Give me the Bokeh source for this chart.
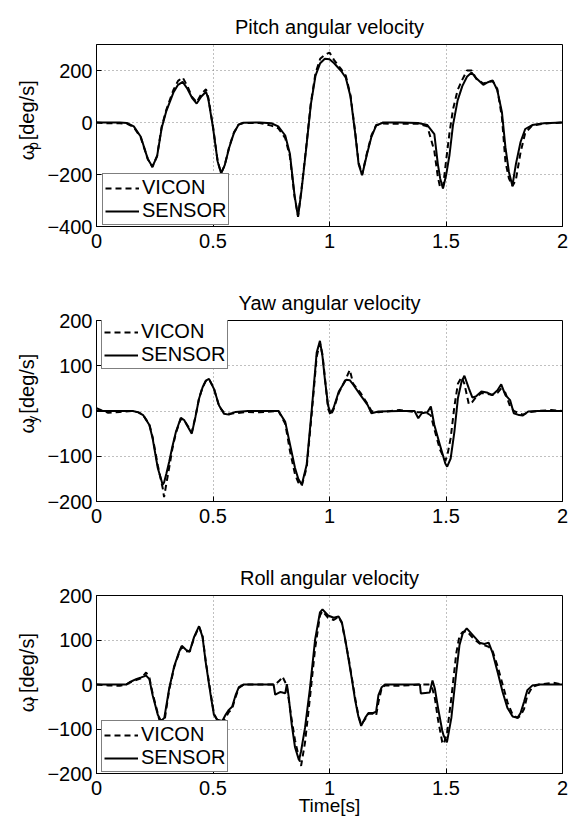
import math
from bokeh.plotting import figure
from bokeh.models import (Range1d, FixedTicker, Legend, LegendItem,
                          CustomJSTickFormatter)
from bokeh.layouts import column, row
from bokeh.core.properties import value
from bokeh.embed import file_html
from bokeh.resources import INLINE

FONT = "Liberation Sans"

# ---------------- data ----------------
x_ticks = [0, 0.5, 1, 1.5, 2]

# Pitch
t_pitch = [0.00, 0.05, 0.10, 0.13, 0.16, 0.19, 0.22, 0.24, 0.26, 0.28,
           0.30, 0.33, 0.35, 0.37, 0.39, 0.41, 0.43, 0.45, 0.47, 0.48,
           0.50, 0.52, 0.535, 0.55, 0.57, 0.59, 0.61, 0.63, 0.70, 0.75,
           0.78, 0.81, 0.83, 0.85, 0.865, 0.88, 0.90, 0.92, 0.94, 0.96,
           0.98, 1.00, 1.02, 1.05, 1.07, 1.09, 1.11, 1.125, 1.14, 1.16,
           1.18, 1.20, 1.23, 1.30, 1.38, 1.42, 1.45, 1.465, 1.475, 1.487,
           1.50, 1.515, 1.53, 1.55, 1.57, 1.59, 1.61, 1.63, 1.66, 1.68,
           1.70, 1.72, 1.74, 1.755, 1.77, 1.785, 1.80, 1.82, 1.84, 1.87,
           1.92, 2.00]
sensor_pitch = [0, 0, 0, -2, -15, -55, -140, -170, -130, -20,
                45, 115, 145, 156, 130, 95, 73, 100, 118, 90,
                -20, -150, -196, -165, -95, -40, -8, -1, 0, -3,
                -15, -50, -120, -280, -363, -260, -100, 70, 180, 228,
                245, 243, 228, 198, 172, 100, -40, -160, -203, -125,
                -55, -12, 0, 0, -2, -10, -45, -160, -215, -254,
                -205, -125, -10, 85, 140, 176, 192, 170, 145, 155,
                162, 125, 40, -95, -190, -243, -160, -75, -25, -10,
                -3, 0]
vicon_pitch = [0, -3, -3, -4, -18, -58, -140, -172, -128, -15,
               50, 125, 160, 173, 140, 98, 78, 110, 128, 95,
               -15, -150, -194, -165, -92, -38, -8, -2, -2, -12,
               -22, -60, -130, -285, -360, -255, -95, 75, 190, 245,
               260, 269, 240, 205, 180, 105, -35, -155, -200, -120,
               -50, -10, -4, -5, -5, -15, -110, -210, -250, -250,
               -150, -40, 50, 125, 165, 200, 200, 168, 150, 155,
               160, 130, 20, -150, -215, -245, -220, -115, -40, -12,
               -4, 0]

# Yaw
t_yaw = [0.00, 0.02, 0.05, 0.10, 0.156, 0.18, 0.20, 0.227, 0.241, 0.263,
         0.284, 0.29, 0.30, 0.312, 0.325, 0.341, 0.362, 0.376, 0.392, 0.409,
         0.425, 0.44, 0.455, 0.469, 0.483, 0.504, 0.526, 0.547, 0.568, 0.597,
         0.65, 0.70, 0.781, 0.81, 0.831, 0.852, 0.866, 0.881, 0.902, 0.923,
         0.945, 0.959, 0.97, 0.98, 0.994, 1.005, 1.017, 1.04, 1.071, 1.087,
         1.102, 1.133, 1.164, 1.18, 1.21, 1.30, 1.365, 1.381, 1.396, 1.42,
         1.435, 1.45, 1.474, 1.497, 1.505, 1.52, 1.536, 1.551, 1.567, 1.579,
         1.598, 1.613, 1.628, 1.652, 1.675, 1.698, 1.721, 1.737, 1.755, 1.775,
         1.791, 1.814, 1.83, 1.853, 1.892, 1.95, 2.00]
sensor_yaw = [0, 0, 0, 0, 0, -3, -9, -31, -61, -126,
              -163, -158, -138, -112, -80, -46, -15, -20, -35, -50,
              -12, 27, 52, 67, 71, 49, 12, -6, -8, -2,
              0, 0, 0, -24, -75, -126, -150, -163, -119, -2,
              129, 155, 120, 71, 12, -5, 6, 43, 69, 68,
              58, 35, 13, -5, -1, 0, 0, -16, -5, -3,
              10, -31, -75, -116, -123, -105, -46, 28, 65, 78,
              50, 30, 32, 43, 41, 35, 46, 59, 35, 24,
              -5, -9, -10, -1, 0, 0, 0]
vicon_yaw = [6, 2, -4, -2, 0, -3, -9, -30, -58, -120,
             -170, -190, -160, -125, -85, -48, -17, -20, -33, -47,
             -12, 28, 52, 66, 70, 50, 10, -3, -6, -5,
             -2, -3, 0, -28, -90, -140, -158, -165, -125, -10,
             120, 150, 125, 75, 5, -10, 3, 40, 72, 91,
             60, 40, 15, 0, -3, 2, -2, -3, -3, -5,
             -10, -40, -85, -110, -100, -60, 10, 60, 75, 60,
             15, 20, 30, 40, 38, 36, 40, 50, 40, 10,
             0, -5, -8, -3, 0, 2, 0]

# Roll
t_roll = [0.00, 0.05, 0.10, 0.128, 0.142, 0.17, 0.192, 0.213, 0.227, 0.241,
          0.263, 0.277, 0.291, 0.312, 0.334, 0.355, 0.366, 0.384, 0.40, 0.419,
          0.44, 0.455, 0.469, 0.49, 0.504, 0.518, 0.54, 0.554, 0.568, 0.582,
          0.597, 0.611, 0.632, 0.70, 0.76, 0.767, 0.788, 0.798, 0.81, 0.817,
          0.824, 0.838, 0.852, 0.869, 0.878, 0.895, 0.916, 0.938, 0.959, 0.97,
          0.994, 1.018, 1.039, 1.053, 1.068, 1.082, 1.096, 1.11, 1.124, 1.136,
          1.153, 1.167, 1.188, 1.20, 1.21, 1.224, 1.238, 1.30, 1.388, 1.392,
          1.43, 1.442, 1.452, 1.466, 1.484, 1.49, 1.504, 1.523, 1.544, 1.558,
          1.572, 1.589, 1.615, 1.644, 1.665, 1.683, 1.70, 1.722, 1.743, 1.764,
          1.786, 1.807, 1.82, 1.835, 1.849, 1.871, 1.90, 1.96, 2.00]
sensor_roll = [0, 0, 0, 0, 5, 12, 16, 20, 12, -24,
               -68, -82, -75, -9, 42, 74, 87, 78, 74, 107,
               131, 107, 49, -24, -68, -79, -82, -68, -57, -50,
               -24, -6, 0, 0, 0, -23, -17, -18, -20, 1,
               -24, -90, -141, -170, -150, -97, -9, 100, 162, 169,
               155, 150, 153, 140, 100, 56, 12, -35, -72, -93,
               -75, -64, -64, -61, -24, -6, 0, 0, 0, -20,
               -18, 9, -9, -53, -104, -115, -130, -75, 27, 89,
               115, 126, 111, 94, 91, 94, 71, 27, -17, -53,
               -72, -75, -64, -39, -13, -2, 0, 0, 0]
vicon_roll = [0, -2, -3, 0, 4, 10, 14, 27, 15, -20,
              -65, -95, -85, -12, 40, 72, 85, 75, 74, 105,
              130, 110, 52, -20, -65, -80, -85, -75, -62, -55,
              -28, -8, 0, 0, 0, 0, 10, 18, 5, -5,
              -30, -80, -125, -165, -183, -130, -30, 80, 155, 165,
              150, 145, 152, 138, 98, 60, 15, -30, -70, -90,
              -78, -66, -66, -70, -40, -8, -2, -3, 0, 0,
              0, -10, -30, -80, -130, -134, -110, -30, 70, 110,
              118, 120, 105, 92, 88, 85, 75, 40, 0, -40,
              -68, -75, -70, -55, -25, -5, 0, 4, 0]

FRAME_H = 182
FRAME_LEFT = 94     # page x of the axes box
FRAME_RIGHT = 562
LAB_W = 44          # width of the narrow strip holding the y-axis label
MAIN_W = 568 - LAB_W
BORDER_L = FRAME_LEFT - LAB_W
BORDER_R = MAIN_W - BORDER_L - (FRAME_RIGHT - FRAME_LEFT)


def label_strip(height, top, sub, sub_w):
    """Narrow figure that carries the rotated y label  ω_sub [deg/s]."""
    s = figure(width=LAB_W, height=height, x_range=Range1d(0, LAB_W),
               y_range=Range1d(0, height), output_backend="svg",
               toolbar_location=None, min_border=0, title=None,
               x_axis_type=None, y_axis_type=None)
    s.outline_line_color = None
    s.grid.visible = False
    s.background_fill_color = "white"
    s.border_fill_color = "white"
    w_om, w_deg, gap = 15, 60, 7
    total = w_om + sub_w + gap + w_deg
    centre = height - (top + FRAME_H / 2)
    start = centre - total / 2
    base_x = 26.5
    s.text(x=[base_x, base_x + 5.5, base_x],
           y=[start, start + w_om + 1, start + w_om + 1 + sub_w + gap],
           text=["\u03c9", sub, "[deg/s]"],
           angle=math.pi / 2, text_align="left", text_baseline="alphabetic",
           text_font=value(FONT), text_font_size=["20px", "14px", "20px"],
           text_color="black")
    return s


def make_panel(title, sub, sub_w, t, vicon, sensor, y0, y1, yticks,
               leg_xy, height, top, xlabel=None):
    bottom = height - top - FRAME_H
    p = figure(width=MAIN_W, height=height, x_range=Range1d(0, 2),
               y_range=Range1d(y0, y1), output_backend="svg",
               toolbar_location=None, title=title,
               min_border_left=BORDER_L, min_border_right=BORDER_R,
               min_border_top=top, min_border_bottom=bottom)
    p.title.align = "center"
    p.title.text_font = FONT
    p.title.text_font_size = "20px"
    p.title.text_font_style = "normal"
    p.title.text_color = "black"
    p.title.standoff = 13
    p.background_fill_color = "white"
    p.border_fill_color = "white"
    p.outline_line_color = "black"
    p.outline_line_width = 1

    p.xaxis.ticker = FixedTicker(ticks=x_ticks)
    p.yaxis.ticker = FixedTicker(ticks=yticks)
    p.xaxis.formatter = CustomJSTickFormatter(code="return tick.toString();")
    p.yaxis.formatter = CustomJSTickFormatter(
        code="return tick < 0 ? '\\u2212' + Math.abs(tick) : tick.toString();")
    for ax in (p.xaxis[0], p.yaxis[0]):
        ax.axis_line_color = "black"
        ax.major_tick_line_color = "black"
        ax.major_tick_in = 5
        ax.major_tick_out = 0
        ax.minor_tick_line_color = None
        ax.major_label_text_font = FONT
        ax.major_label_text_font_size = "20px"
        ax.major_label_text_color = "black"
        ax.major_label_standoff = 4
    p.xaxis.major_label_standoff = 7
    if xlabel:
        p.xaxis.axis_label = xlabel
        p.xaxis.axis_label_text_font = FONT
        p.xaxis.axis_label_text_font_size = "19px"
        p.xaxis.axis_label_text_font_style = "normal"
        p.xaxis.axis_label_text_color = "black"
        p.xaxis.axis_label_standoff = -3
    p.grid.grid_line_color = "#808080"
    p.grid.grid_line_dash = "1 3"
    p.grid.grid_line_width = 1

    rv = p.line(t, vicon, line_color="black", line_width=2, line_dash="6 4")
    rs = p.line(t, sensor, line_color="black", line_width=2)

    legend = Legend(items=[LegendItem(label="VICON", renderers=[rv]),
                           LegendItem(label="SENSOR", renderers=[rs])],
                    location=leg_xy, orientation="vertical",
                    padding=2, spacing=0, margin=0,
                    glyph_width=34, glyph_height=22, label_height=22,
                    label_standoff=3,
                    label_text_font=FONT, label_text_font_size="20px",
                    label_text_color="black",
                    border_line_color="black", border_line_width=1,
                    background_fill_color="white", background_fill_alpha=1,
                    level="underlay")
    p.add_layout(legend)
    return row(label_strip(height, top, sub, sub_w), p, spacing=0)


r1 = make_panel("Pitch angular velocity", "p", 8, t_pitch, vicon_pitch,
                sensor_pitch, -400, 300, [-400, -200, 0, 200], (6, 1),
                283, 44)
r2 = make_panel("Yaw angular velocity", "y", 7, t_yaw, vicon_yaw, sensor_yaw,
                -200, 200, [-200, -100, 0, 100, 200], (5, 132), 275, 36)
r3 = make_panel("Roll angular velocity", "r", 5, t_roll, vicon_roll,
                sensor_roll, -200, 200, [-200, -100, 0, 100, 200], (5, 1),
                260, 36, xlabel="Time[s]")

layout = column(r1, r2, r3, spacing=0)
open("out.html", "w").write(file_html(layout, INLINE))
